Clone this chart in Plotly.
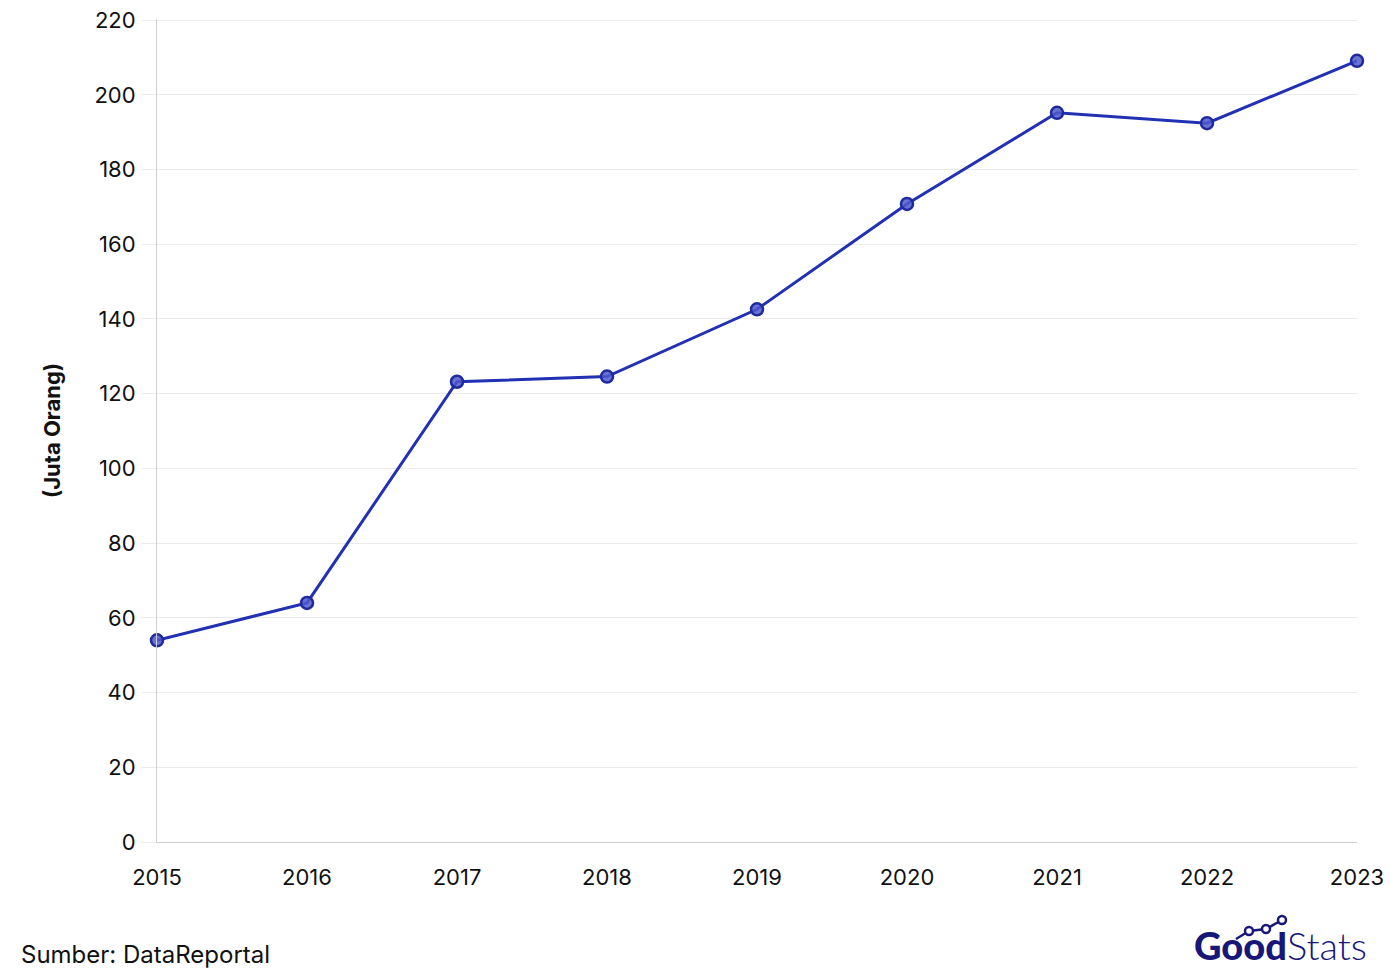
import plotly.graph_objects as go

years = [2015, 2016, 2017, 2018, 2019, 2020, 2021, 2022, 2023]
users = [54, 64, 123.2, 124.6, 142.6, 170.8, 195.2, 192.4, 209.1]
y_ticks = [0, 20, 40, 60, 80, 100, 120, 140, 160, 180, 200, 220]

# page is shown with an 8px body margin; compensate so positions match the page
OFF = 8
W, H = 1391 - 2 * OFF, 977 - 2 * OFF
L, R, T, B = 157 - OFF, 34 - OFF, 19 - OFF, 135 - OFF
FONT = "Inter"
INK = "#111111"
NAVY = "#17177a"

fig = go.Figure()
fig.add_trace(go.Scatter(
    x=years, y=users, mode="lines+markers",
    line=dict(color="#2230b3", width=3),
    marker=dict(size=12, color="rgba(80,90,205,0.85)",
                line=dict(color="#1f2a9e", width=2.5)),
    showlegend=False, cliponaxis=False,
))

fig.update_layout(
    width=W, height=H,
    margin=dict(l=L, r=R, t=T, b=B, autoexpand=False),
    paper_bgcolor="white", plot_bgcolor="white",
    font=dict(family=FONT, color=INK, size=22),
    xaxis=dict(
        range=[2015, 2023], tickvals=years, ticktext=[str(y) for y in years],
        showgrid=False, zeroline=False, showline=True, linecolor="#d0d0d0", linewidth=1,
        ticks="", ticklabelstandoff=16, tickfont=dict(size=22, color=INK),
        automargin=False, ticklabeloverflow="allow",
    ),
    yaxis=dict(
        range=[0, 220.3], tickvals=y_ticks,
        showgrid=True, gridcolor="#ebebeb", gridwidth=1, zeroline=False,
        showline=True, linecolor="#d0d0d0", linewidth=1,
        ticks="outside", ticklen=15, tickcolor="#ebebeb",
        ticklabelstandoff=1, tickfont=dict(size=22, color=INK),
        title=dict(text="<b>(Juta Orang)</b>", font=dict(size=22, color=INK), standoff=27),
        automargin=False, ticklabeloverflow="allow",
    ),
)


def px_x(px):
    return (px - OFF - L) / (W - L - R)


def px_y(py):
    return ((H - B) - (py - OFF)) / (H - T - B)


fig.add_annotation(
    text="Sumber: DataReportal", xref="paper", yref="paper",
    x=px_x(19), y=px_y(954), xanchor="left", yanchor="middle", showarrow=False,
    font=dict(size=24, color=INK, family=FONT),
)

# Logo
fig.add_annotation(
    text="Good", xref="paper", yref="paper", borderpad=0,
    x=px_x(1288), y=px_y(945), xanchor="right", yanchor="middle", showarrow=False,
    font=dict(size=38, color=NAVY, family="Lato", weight=900),
)
fig.add_annotation(
    text="Stats", xref="paper", yref="paper", borderpad=0,
    x=px_x(1286), y=px_y(945), xanchor="left", yanchor="middle", showarrow=False,
    font=dict(size=38, color=NAVY, family="Lato", weight=300),
)
pts = [(1236, 939), (1249, 931), (1266, 929), (1282, 920)]
for a, b in zip(pts[:-1], pts[1:]):
    fig.add_shape(type="line", xref="paper", yref="paper",
                  x0=px_x(a[0]), y0=px_y(a[1]), x1=px_x(b[0]), y1=px_y(b[1]),
                  line=dict(color=NAVY, width=2.5))
for (x0, y0) in pts[1:]:
    r = 4
    fig.add_shape(type="circle", xref="paper", yref="paper",
                  x0=px_x(x0 - r), x1=px_x(x0 + r), y0=px_y(y0 + r), y1=px_y(y0 - r),
                  line=dict(color=NAVY, width=2.5), fillcolor="white")

fig.write_html("out.html")
